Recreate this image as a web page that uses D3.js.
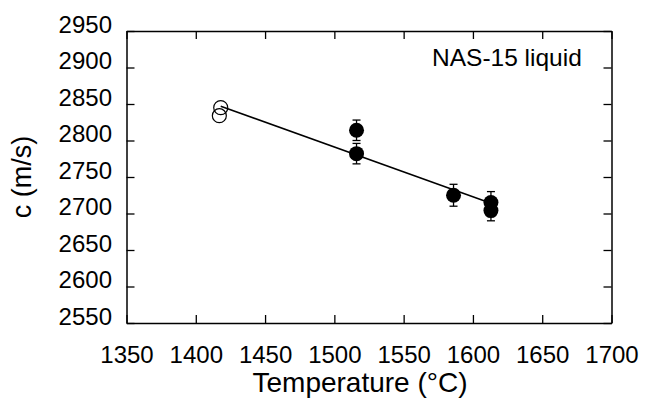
<!DOCTYPE html>
<html>
<head>
<meta charset="utf-8">
<script src="https://cdn.jsdelivr.net/npm/d3@7"></script>
<style>
  body { margin: 0; background: #fff; }
  svg { font-family: "Liberation Sans", Arial, sans-serif; }
</style>
</head>
<body>
<svg width="648" height="401"></svg>
<script>
// open circles (no error bars)
const openT = [1418, 1417];
const openC = [2845, 2834];
// filled circles with error bars
const fillT = [1516, 1516, 1586, 1613, 1613];
const fillC = [2814, 2782, 2725, 2715, 2704];
const fillErr = [14, 14, 15, 15, 14];
// fitted line end points
const fitT = [1418, 1613];
const fitC = [2847, 2714];

const xTicks = [1350, 1400, 1450, 1500, 1550, 1600, 1650, 1700];
const yTicks = [2550, 2600, 2650, 2700, 2750, 2800, 2850, 2900, 2950];

const svg = d3.select("svg");
const mLeft = 126.5, mRight = 611.5, mTop = 31, mBottom = 323;

const x = d3.scaleLinear().domain([1350, 1700]).range([mLeft, mRight]);
const y = d3.scaleLinear().domain([2550, 2950]).range([mBottom, mTop]);

// axes, ticks inward on all four sides
const tickLen = 8;
const gx = svg.append("g").attr("transform", `translate(0,${mBottom})`)
    .call(d3.axisBottom(x).tickValues(xTicks).tickSizeInner(-tickLen).tickSizeOuter(0).tickFormat(d3.format("d")));
svg.append("g").attr("transform", `translate(0,${mTop})`)
    .call(d3.axisTop(x).tickValues(xTicks).tickSizeInner(-tickLen).tickSizeOuter(0).tickFormat(""));
const gy = svg.append("g").attr("transform", `translate(${mLeft},0)`)
    .call(d3.axisLeft(y).tickValues(yTicks).tickSizeInner(-tickLen).tickSizeOuter(0).tickFormat(d3.format("d")));
svg.append("g").attr("transform", `translate(${mRight},0)`)
    .call(d3.axisRight(y).tickValues(yTicks).tickSizeInner(-tickLen).tickSizeOuter(0).tickFormat(""));

svg.selectAll(".domain").attr("stroke", "#000").attr("stroke-width", 1.5);
svg.selectAll(".tick line").attr("stroke", "#000").attr("stroke-width", 1.3);
svg.selectAll(".tick text").attr("font-size", 24).attr("fill", "#000")
    .attr("font-family", "Liberation Sans, Arial, sans-serif");

// label placement: x labels below, y labels sit with baseline on the tick
gx.selectAll(".tick text").attr("y", 40).attr("dy", null);
gy.selectAll(".tick text").attr("x", -14.5).attr("y", 1).attr("dy", null);

// fit line
const line = d3.line().x((d) => x(d[0])).y((d) => y(d[1]));
svg.append("path")
    .attr("d", line(d3.zip(fitT, fitC)))
    .attr("stroke", "#000").attr("stroke-width", 1.5).attr("fill", "none");

// error bars
const errs = svg.append("g").attr("stroke", "#000").attr("stroke-width", 1.3);
fillT.forEach((t, i) => {
    const cx = x(t), y1 = y(fillC[i] + fillErr[i]), y2 = y(fillC[i] - fillErr[i]);
    errs.append("line").attr("x1", cx).attr("x2", cx).attr("y1", y1).attr("y2", y2);
    errs.append("line").attr("x1", cx - 4).attr("x2", cx + 4).attr("y1", y1).attr("y2", y1);
    errs.append("line").attr("x1", cx - 4).attr("x2", cx + 4).attr("y1", y2).attr("y2", y2);
});

svg.append("g").selectAll("circle")
    .data(d3.zip(fillT, fillC)).join("circle")
    .attr("cx", (d) => x(d[0])).attr("cy", (d) => y(d[1])).attr("r", 7.5)
    .attr("fill", "#000");

svg.append("g").selectAll("circle")
    .data(d3.zip(openT, openC)).join("circle")
    .attr("cx", (d) => x(d[0])).attr("cy", (d) => y(d[1])).attr("r", 7)
    .attr("fill", "none").attr("stroke", "#000").attr("stroke-width", 1.2);

// labels
svg.append("text").attr("x", 432).attr("y", 66).attr("font-size", 24.5).text("NAS-15 liquid");

svg.append("text")
    .attr("x", (mLeft + mRight) / 2 - 9).attr("y", 392)
    .attr("text-anchor", "middle").attr("font-size", 28)
    .text("Temperature (°C)");

svg.append("text")
    .attr("transform", `translate(31,${(mTop + mBottom) / 2}) rotate(-90)`)
    .attr("text-anchor", "middle").attr("font-size", 27)
    .text("c (m/s)");
</script>
</body>
</html>
